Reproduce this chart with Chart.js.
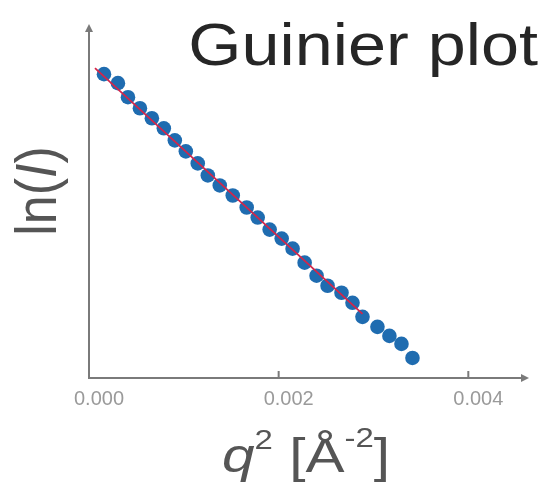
<!DOCTYPE html>
<html>
<head>
<meta charset="utf-8">
<script src="https://cdn.jsdelivr.net/npm/chart.js@4"></script>
<style>
  html, body { margin: 0; padding: 0; background: #fff; }
  #guinier { display: block; }
</style>
</head>
<body>
<canvas id="guinier" width="546" height="490"></canvas>
<script>
// q^2 values and ln(I) (ln(I) has no scale, so arbitrary units)
const Q2 = [0.000158, 0.000305, 0.000411, 0.000537, 0.000663, 0.000789, 0.000905, 0.001021, 0.001147,
    0.001253, 0.001379, 0.001516, 0.001663, 0.001779, 0.001905, 0.002032, 0.002147, 0.002274,
    0.0024, 0.002516, 0.002663, 0.002779, 0.002884, 0.003042, 0.003168, 0.003295, 0.003411];
const LN_I = [3.03, 2.94, 2.80, 2.69, 2.59, 2.49, 2.37, 2.26, 2.14,
    2.02, 1.92, 1.82, 1.70, 1.60, 1.48, 1.39, 1.29, 1.15,
    1.02, 0.92, 0.85, 0.75, 0.61, 0.51, 0.42, 0.34, 0.20];

// linear fit over the Guinier region
const FIT_Q2 = [0.000063, 0.002884];
const FIT_LN_I = [3.09, 0.64];

const X_TICKS = [0, 0.002, 0.004];
const X_TICK_LABELS = ['0.000', '0.002', '0.004'];

const TITLE = 'Guinier plot';

const FONT = '"Liberation Sans", Arial, sans-serif';
const AXIS_COLOR = '#7a7a7a';

function drawRuns(ctx, runs) {
    let x = 0;
    runs.forEach(r => {
        ctx.font = r.font;
        ctx.fillText(r.text, x, r.dy || 0);
        x += ctx.measureText(r.text).width;
    });
    return x;
}

function runsWidth(ctx, runs) {
    let w = 0;
    runs.forEach(r => {
        ctx.font = r.font;
        w += ctx.measureText(r.text).width;
    });
    return w;
}

const decorations = {
    id: 'decorations',
    afterDraw(chart) {
        const ctx = chart.ctx;
        const xs = chart.scales.x;
        const ys = chart.scales.y;
        const x0 = xs.getPixelForValue(0);
        const y0 = ys.getPixelForValue(0);
        const top = chart.chartArea.top;
        const right = chart.chartArea.right;

        ctx.save();
        // axes with arrow heads
        ctx.strokeStyle = AXIS_COLOR;
        ctx.fillStyle = AXIS_COLOR;
        ctx.lineWidth = 2;
        ctx.beginPath();
        ctx.moveTo(x0, y0 + 1);
        ctx.lineTo(x0, top + 6);
        ctx.moveTo(x0 - 1, y0);
        ctx.lineTo(right - 6, y0);
        ctx.stroke();

        ctx.beginPath();
        ctx.moveTo(x0, top);
        ctx.lineTo(x0 - 4, top + 8);
        ctx.lineTo(x0 + 4, top + 8);
        ctx.closePath();
        ctx.fill();
        ctx.beginPath();
        ctx.moveTo(right, y0);
        ctx.lineTo(right - 8, y0 - 4);
        ctx.lineTo(right - 8, y0 + 4);
        ctx.closePath();
        ctx.fill();

        // inward tick marks
        X_TICKS.slice(1).forEach(v => {
            const px = xs.getPixelForValue(v);
            ctx.beginPath();
            ctx.moveTo(px, y0);
            ctx.lineTo(px, y0 - 7);
            ctx.stroke();
        });

        // title
        ctx.fillStyle = '#262626';
        ctx.textBaseline = 'alphabetic';
        ctx.save();
        ctx.translate(538, 65);
        ctx.scale(1.14, 1);
        ctx.textAlign = 'right';
        ctx.font = '60px ' + FONT;
        ctx.fillText(TITLE, 0, 0);
        ctx.restore();

        // x axis title: q^2 [Å^-2]
        ctx.fillStyle = '#555';
        ctx.textAlign = 'left';
        const xRuns = [
            { text: 'q', font: 'italic 48px ' + FONT },
            { text: '2', font: '27px ' + FONT, dy: -23 },
            { text: ' [Å', font: '48px ' + FONT },
            { text: '-2', font: '27px ' + FONT, dy: -25 },
            { text: ']', font: '48px ' + FONT }
        ];
        ctx.save();
        ctx.translate(222, 472);
        ctx.scale(1.22, 1);
        drawRuns(ctx, xRuns);
        ctx.restore();

        // y axis title: ln(I)
        const yRuns = [
            { text: 'ln(', font: '52px ' + FONT },
            { text: 'I', font: 'italic 52px ' + FONT },
            { text: ')', font: '52px ' + FONT }
        ];
        ctx.save();
        ctx.translate(56, 191);
        ctx.rotate(-Math.PI / 2);
        ctx.scale(1, 1.12);
        const w = runsWidth(ctx, yRuns);
        ctx.translate(-w / 2, 0);
        drawRuns(ctx, yRuns);
        ctx.restore();

        ctx.restore();
    }
};

new Chart(document.getElementById('guinier'), {
    type: 'scatter',
    data: {
        datasets: [{
            label: 'Fit',
            data: FIT_Q2.map((q, i) => ({ x: q, y: FIT_LN_I[i] })),
            showLine: true,
            borderColor: '#d3264a',
            borderWidth: 1.8,
            pointRadius: 0,
            order: 0
        }, {
            label: 'ln(I)',
            data: Q2.map((q, i) => ({ x: q, y: LN_I[i] })),
            backgroundColor: '#1f6cb0',
            borderColor: '#1f6cb0',
            borderWidth: 0,
            pointRadius: 7.3,
            order: 1
        }]
    },
    options: {
        responsive: false,
        animation: false,
        devicePixelRatio: 1,
        layout: {
            padding: { left: 89, top: 24, right: 17, bottom: 70 }
        },
        plugins: {
            legend: { display: false },
            tooltip: { enabled: false },
            title: { display: false }
        },
        scales: {
            x: {
                type: 'linear',
                min: 0,
                max: 0.00464,
                afterBuildTicks: scale => {
                    scale.ticks = X_TICKS.map(v => ({ value: v }));
                },
                ticks: {
                    callback: (v, i) => X_TICK_LABELS[i],
                    color: '#9a9a9a',
                    font: { size: 20, family: FONT },
                    padding: 9,
                    labelOffset: 10,
                    maxRotation: 0
                },
                grid: { display: false, drawTicks: false },
                border: { display: false }
            },
            y: {
                type: 'linear',
                min: 0,
                max: 3.53,
                ticks: { display: false },
                grid: { display: false, drawTicks: false },
                border: { display: false }
            }
        }
    },
    plugins: [decorations]
});
</script>
</body>
</html>
